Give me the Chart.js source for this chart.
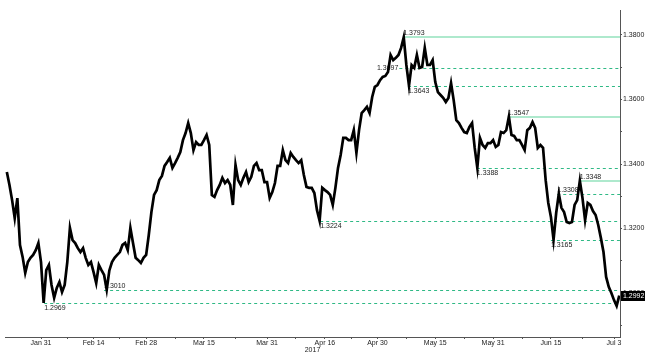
<!DOCTYPE html>
<html>
<head>
<meta charset="utf-8">
<script src="https://cdn.jsdelivr.net/npm/chart.js@4.4.1/dist/chart.umd.min.js"></script>
<style>
  html, body { margin: 0; padding: 0; background: #fff; }
  #wrap { width: 656px; height: 354px; }
</style>
</head>
<body>
<div id="wrap"><canvas id="fxChart" width="656" height="354"></canvas></div>
<script>
// price readings, two per trading day (day 0 = Mon Jan 23 2017)
const prices = [
  1.3375, 1.3335, 1.3288, 1.3232, 1.3294, 1.3149, 1.3112, 1.3062, 1.3096, 1.3109,
  1.3118, 1.3133, 1.3155, 1.3096, 1.2969, 1.3071, 1.3087, 1.3025, 1.2985, 1.3016,
  1.3034, 1.3003, 1.3025, 1.3096, 1.3202, 1.3164, 1.3155, 1.3139, 1.3127, 1.3139,
  1.3109, 1.3087, 1.3096, 1.3065, 1.3031, 1.3087, 1.3071, 1.3056, 1.3010, 1.3070,
  1.3096, 1.3109, 1.3118, 1.3127, 1.3149, 1.3155, 1.3133, 1.3202, 1.3155, 1.3109,
  1.3102, 1.3093, 1.3109, 1.3118, 1.3180, 1.3251, 1.3304, 1.3319, 1.3350, 1.3363,
  1.3394, 1.3406, 1.3419, 1.3388, 1.3403, 1.3419, 1.3437, 1.3474, 1.3496, 1.3527,
  1.3496, 1.3443, 1.3468, 1.3459, 1.3459, 1.3474, 1.3490, 1.3459,
  1.3304, 1.3298, 1.3319, 1.3335, 1.3357, 1.3341, 1.3350, 1.3335, 1.3273, 1.3397,
  1.3350, 1.3335, 1.3357, 1.3375, 1.3344, 1.3360, 1.3394, 1.3403, 1.3381, 1.3381,
  1.3344, 1.3344, 1.3295, 1.3313, 1.3341, 1.3394, 1.3394, 1.3443, 1.3412, 1.3403,
  1.3434, 1.3422, 1.3412, 1.3403, 1.3412, 1.3366, 1.3329, 1.3326, 1.3326, 1.3310,
  1.3257,
  1.3224, 1.3326, 1.3319, 1.3313, 1.3304, 1.3273, 1.3326, 1.3388, 1.3428, 1.3481,
  1.3481, 1.3474, 1.3474, 1.3505, 1.3434, 1.3505, 1.3558, 1.3567, 1.3577, 1.3558,
  1.3608, 1.3639, 1.3645, 1.3660, 1.3670, 1.3673, 1.3685, 1.3738, 1.3722, 1.3729,
  1.3738, 1.3760, 1.3793, 1.3707, 1.3643, 1.3707, 1.3698, 1.3738,
  1.3698, 1.3701, 1.3760, 1.3707, 1.3707, 1.3722, 1.3654, 1.3623, 1.3614, 1.3605,
  1.3592, 1.3605, 1.3651, 1.3598, 1.3536, 1.3527, 1.3512, 1.3499, 1.3496, 1.3515,
  1.3527, 1.3450, 1.3388, 1.3481, 1.3459, 1.3450, 1.3465, 1.3465, 1.3474, 1.3453,
  1.3459, 1.3499, 1.3496, 1.3505, 1.3547, 1.3490, 1.3487, 1.3474,
  1.3474, 1.3459, 1.3443, 1.3505, 1.3512, 1.3530, 1.3512, 1.3450, 1.3459, 1.3450,
  1.3350, 1.3279, 1.3236, 1.3165, 1.3248, 1.3308, 1.3264, 1.3251, 1.3220, 1.3217,
  1.3220, 1.3273, 1.3288, 1.3348, 1.3295, 1.3226, 1.3279, 1.3273, 1.3254, 1.3242,
  1.3211, 1.3171, 1.3127, 1.3050, 1.3019, 1.3000, 1.2978, 1.2960, 1.2992
];
const firstDay = -0.5;
const dayStep = 0.5;

// x axis labels and the trading day they sit on
const tickDays = [6, 16, 26, 37, 49, 60, 70, 81, 92, 103, 115];
const tickLabels = ['Jan 31', 'Feb 14', 'Feb 28', 'Mar 15', 'Mar 31', 'Apr 16',
                    'Apr 30', 'May 15', 'May 31', 'Jun 15', 'Jul 3'];
const yearLabel = '2017';

// price axis labels
const yTicks = [1.30, 1.32, 1.34, 1.36, 1.38];

// marked highs / lows: value, day where it happened, kind
const levelValues = [1.3793, 1.3697, 1.3643, 1.3547, 1.3388, 1.3348, 1.3308, 1.3224, 1.3165, 1.3010, 1.2969];
const levelDays   = [74.9, 69.9, 75.8, 94.8, 88.9, 108.5, 104.2, 59.1, 103.0, 18.0, 6.6];
const levelKinds  = ['peak', 'mid', 'below', 'peak', 'below', 'peak', 'above', 'below', 'below', 'above', 'below'];

const lastPrice = 1.2992;

const FONT = '"Liberation Sans", Arial, sans-serif';
Chart.defaults.font.family = FONT;
Chart.defaults.font.size = 7;
Chart.defaults.color = '#222';

const points = prices.map((p, i) => ({ x: firstDay + i * dayStep, y: p }));

const levelPlugin = {
  id: 'levels',
  beforeDatasetsDraw(chart) {
    const { ctx, chartArea, scales } = chart;
    ctx.save();
    ctx.font = '7px ' + FONT;
    ctx.textAlign = 'left';
    levelValues.forEach((v, i) => {
      const kind = levelKinds[i];
      const yy = Math.round(scales.y.getPixelForValue(v));
      const py = kind === 'peak' ? yy : yy + 0.5;
      const px = scales.x.getPixelForValue(levelDays[i]);
      const label = v.toFixed(4);
      let startX = px;
      if (kind === 'mid') startX = px + ctx.measureText(label).width + 1;
      ctx.beginPath();
      if (kind === 'peak') {
        ctx.lineWidth = 1.2;
        ctx.strokeStyle = '#5fd39b';
        ctx.setLineDash([]);
      } else {
        ctx.lineWidth = 1;
        ctx.strokeStyle = '#2fb985';
        ctx.setLineDash([3, 3]);
      }
      ctx.moveTo(startX, py);
      ctx.lineTo(chartArea.right, py);
      ctx.stroke();
      ctx.setLineDash([]);
      ctx.fillStyle = '#222';
      if (kind === 'below') {
        ctx.textBaseline = 'top';
        ctx.fillText(label, px, yy + 1.5);
      } else if (kind === 'mid') {
        ctx.textBaseline = 'middle';
        ctx.fillText(label, px, yy + 0.5);
      } else {
        ctx.textBaseline = 'bottom';
        ctx.fillText(label, px, yy - 0.5);
      }
    });
    ctx.restore();
  },
  afterDraw(chart) {
    const { ctx, chartArea, scales } = chart;
    const py = scales.y.getPixelForValue(lastPrice);
    ctx.save();
    ctx.fillStyle = '#000';
    ctx.fillRect(chartArea.right + 1, Math.round(py) - 5, 24, 10);
    ctx.fillStyle = '#fff';
    ctx.font = '7px ' + FONT;
    ctx.textBaseline = 'middle';
    ctx.textAlign = 'left';
    ctx.fillText(lastPrice.toFixed(4), chartArea.right + 3, Math.round(py));
    ctx.restore();
  }
};

new Chart(document.getElementById('fxChart'), {
  type: 'line',
  data: {
    datasets: [{
      data: points,
      borderColor: '#000',
      borderWidth: 2.7,
      borderJoinStyle: 'miter',
      pointRadius: 0,
      tension: 0,
      fill: false
    }]
  },
  options: {
    responsive: false,
    animation: false,
    layout: { padding: { left: 5, top: 10, right: 0, bottom: 0 } },
    plugins: { legend: { display: false }, tooltip: { enabled: false } },
    scales: {
      x: {
        type: 'linear',
        min: -0.85,
        max: 116.14,
        afterBuildTicks: (scale) => {
          const t = [];
          tickDays.forEach((d, i) => {
            t.push({ value: d });
            if (i < tickDays.length - 1) t.push({ value: (d + tickDays[i + 1]) / 2 });
          });
          scale.ticks = t;
        },
        afterFit: (scale) => { scale.height = 17; },
        ticks: {
          autoSkip: false,
          maxRotation: 0,
          padding: 0,
          color: '#222',
          callback: (v) => {
            const i = tickDays.indexOf(v);
            return i >= 0 ? tickLabels[i] : '';
          }
        },
        grid: { drawOnChartArea: false, tickLength: 2, color: '#555' },
        border: { color: '#555' },
        title: { display: true, text: yearLabel, padding: 0, color: '#222', font: { size: 7 } }
      },
      y: {
        position: 'right',
        min: 1.28636,
        max: 1.38775,
        afterBuildTicks: (scale) => {
          const t = [];
          yTicks.forEach((v, i) => {
            if (i === 0) t.push({ value: v - 0.01 });
            t.push({ value: v });
            if (i < yTicks.length - 1) t.push({ value: (v + yTicks[i + 1]) / 2 });
          });
          scale.ticks = t;
        },
        afterFit: (scale) => { scale.width = 36; },
        ticks: {
          autoSkip: false,
          padding: 1,
          color: '#222',
          callback: (v) => yTicks.some(t => Math.abs(t - v) < 1e-6) ? v.toFixed(4) : ''
        },
        grid: { drawOnChartArea: false, tickLength: 2, color: '#555' },
        border: { color: '#555' }
      }
    }
  },
  plugins: [levelPlugin]
});
</script>
</body>
</html>
